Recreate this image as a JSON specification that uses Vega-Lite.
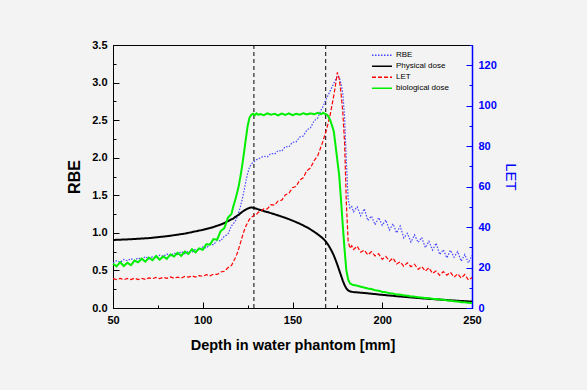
{
 "$schema": "https://vega.github.io/schema/vega-lite/v6.json",
 "width": 359, "height": 263,
 "autosize": {"type": "none"},
 "padding": {"left": 113, "top": 45, "right": 115, "bottom": 82},
 "background": "#f3f3f3",
 "config": {
  "font": "Liberation Sans",
  "view": {"stroke": "#000000", "strokeWidth": 1, "fill": "#f3f3f3"},
  "axis": {"grid": false, "domainColor": "#000000", "domainWidth": 1, "tickColor": "#000000", "tickWidth": 1, "labelColor": "#000000", "labelFont": "Liberation Sans", "labelFontWeight": "bold", "labelFontSize": 11, "titleFont": "Liberation Sans", "titleColor": "#000000", "titleFontWeight": "bold", "titleFontSize": 15, "labelFlush": false, "labelOverlap": false}
 },
 "datasets": {
  "curves": [
   {"d":50,"RBE":0.602,"Physical dose":0.905,"LET":14.48,"biological dose":0.589},
   {"d":52,"RBE":0.63,"Physical dose":0.907,"LET":14.06,"biological dose":0.554},
   {"d":54,"RBE":0.608,"Physical dose":0.909,"LET":14.6,"biological dose":0.609},
   {"d":56,"RBE":0.646,"Physical dose":0.911,"LET":13.98,"biological dose":0.559},
   {"d":58,"RBE":0.628,"Physical dose":0.913,"LET":14.6,"biological dose":0.602},
   {"d":60,"RBE":0.658,"Physical dose":0.915,"LET":14.06,"biological dose":0.57},
   {"d":62,"RBE":0.632,"Physical dose":0.918,"LET":14.76,"biological dose":0.631},
   {"d":64,"RBE":0.668,"Physical dose":0.921,"LET":14.06,"biological dose":0.608},
   {"d":66,"RBE":0.646,"Physical dose":0.924,"LET":14.6,"biological dose":0.657},
   {"d":68,"RBE":0.684,"Physical dose":0.927,"LET":14.14,"biological dose":0.617},
   {"d":70,"RBE":0.652,"Physical dose":0.93,"LET":14.88,"biological dose":0.67},
   {"d":72,"RBE":0.682,"Physical dose":0.935,"LET":14.5,"biological dose":0.636},
   {"d":74,"RBE":0.662,"Physical dose":0.94,"LET":15.08,"biological dose":0.692},
   {"d":76,"RBE":0.702,"Physical dose":0.945,"LET":14.5,"biological dose":0.643},
   {"d":78,"RBE":0.686,"Physical dose":0.95,"LET":15.16,"biological dose":0.686},
   {"d":80,"RBE":0.718,"Physical dose":0.955,"LET":14.66,"biological dose":0.654},
   {"d":82,"RBE":0.694,"Physical dose":0.962,"LET":15.38,"biological dose":0.712},
   {"d":84,"RBE":0.732,"Physical dose":0.969,"LET":14.7,"biological dose":0.686},
   {"d":86,"RBE":0.712,"Physical dose":0.976,"LET":15.26,"biological dose":0.734},
   {"d":88,"RBE":0.752,"Physical dose":0.983,"LET":14.82,"biological dose":0.695},
   {"d":90,"RBE":0.722,"Physical dose":0.99,"LET":15.58,"biological dose":0.75},
   {"d":92,"RBE":0.756,"Physical dose":1.0,"LET":15.24,"biological dose":0.72},
   {"d":94,"RBE":0.74,"Physical dose":1.01,"LET":15.86,"biological dose":0.782},
   {"d":96,"RBE":0.784,"Physical dose":1.02,"LET":15.32,"biological dose":0.741},
   {"d":98,"RBE":0.772,"Physical dose":1.03,"LET":16.02,"biological dose":0.794},
   {"d":100,"RBE":0.813,"Physical dose":1.04,"LET":15.64,"biological dose":0.775},
   {"d":102,"RBE":0.798,"Physical dose":1.052,"LET":16.48,"biological dose":0.849},
   {"d":104,"RBE":0.846,"Physical dose":1.064,"LET":15.94,"biological dose":0.843},
   {"d":106,"RBE":0.843,"Physical dose":1.078,"LET":16.74,"biological dose":0.917},
   {"d":108,"RBE":0.9,"Physical dose":1.094,"LET":16.6,"biological dose":0.909},
   {"d":110,"RBE":0.892,"Physical dose":1.11,"LET":17.78,"biological dose":1.024},
   {"d":112,"RBE":0.956,"Physical dose":1.13,"LET":18.14,"biological dose":1.062},
   {"d":114,"RBE":0.98,"Physical dose":1.155,"LET":19.86,"biological dose":1.2},
   {"d":116,"RBE":1.094,"Physical dose":1.18,"LET":21.02,"biological dose":1.253},
   {"d":117,"RBE":1.12,"Physical dose":1.19,"LET":22.8,"biological dose":1.35},
   {"d":118,"RBE":1.15,"Physical dose":1.21,"LET":24.5,"biological dose":1.43},
   {"d":119,"RBE":1.2,"Physical dose":1.225,"LET":26.6,"biological dose":1.52},
   {"d":120,"RBE":1.27,"Physical dose":1.24,"LET":29.2,"biological dose":1.62},
   {"d":121,"RBE":1.35,"Physical dose":1.26,"LET":32.2,"biological dose":1.75},
   {"d":122,"RBE":1.45,"Physical dose":1.28,"LET":35.2,"biological dose":1.9},
   {"d":123,"RBE":1.56,"Physical dose":1.295,"LET":38.1,"biological dose":2.07},
   {"d":124,"RBE":1.68,"Physical dose":1.31,"LET":40.4,"biological dose":2.25},
   {"d":125,"RBE":1.79,"Physical dose":1.322,"LET":42.3,"biological dose":2.42},
   {"d":126,"RBE":1.87,"Physical dose":1.332,"LET":43.8,"biological dose":2.53},
   {"d":127,"RBE":1.91,"Physical dose":1.338,"LET":44.9,"biological dose":2.57},
   {"d":128,"RBE":1.94,"Physical dose":1.335,"LET":45.4,"biological dose":2.585},
   {"d":129,"RBE":1.955,"Physical dose":1.328,"LET":46.4,"biological dose":2.565},
   {"d":130,"RBE":1.975,"Physical dose":1.32,"LET":46.3,"biological dose":2.59},
   {"d":131,"RBE":1.98,"Physical dose":1.312,"LET":47.4,"biological dose":2.57},
   {"d":132,"RBE":2.0,"Physical dose":1.305,"LET":47.5,"biological dose":2.582},
   {"d":134,"RBE":2.02,"Physical dose":1.29,"LET":49.06,"biological dose":2.565},
   {"d":136,"RBE":2.012,"Physical dose":1.277,"LET":48.98,"biological dose":2.59},
   {"d":138,"RBE":2.058,"Physical dose":1.262,"LET":51.1,"biological dose":2.572},
   {"d":140,"RBE":2.048,"Physical dose":1.247,"LET":50.87,"biological dose":2.585},
   {"d":142,"RBE":2.095,"Physical dose":1.232,"LET":52.91,"biological dose":2.563},
   {"d":144,"RBE":2.088,"Physical dose":1.216,"LET":53.3,"biological dose":2.588},
   {"d":146,"RBE":2.148,"Physical dose":1.2,"LET":55.89,"biological dose":2.57},
   {"d":148,"RBE":2.145,"Physical dose":1.182,"LET":56.72,"biological dose":2.59},
   {"d":150,"RBE":2.205,"Physical dose":1.163,"LET":59.43,"biological dose":2.566},
   {"d":152,"RBE":2.21,"Physical dose":1.143,"LET":60.11,"biological dose":2.584},
   {"d":154,"RBE":2.275,"Physical dose":1.122,"LET":63.16,"biological dose":2.572},
   {"d":156,"RBE":2.288,"Physical dose":1.099,"LET":64.38,"biological dose":2.592},
   {"d":158,"RBE":2.368,"Physical dose":1.074,"LET":67.9,"biological dose":2.575},
   {"d":160,"RBE":2.398,"Physical dose":1.046,"LET":69.17,"biological dose":2.59},
   {"d":162,"RBE":2.488,"Physical dose":1.016,"LET":72.81,"biological dose":2.578},
   {"d":164,"RBE":2.528,"Physical dose":0.982,"LET":75.1,"biological dose":2.596},
   {"d":166,"RBE":2.638,"Physical dose":0.945,"LET":79.99,"biological dose":2.58},
   {"d":167,"RBE":2.68,"Physical dose":0.925,"LET":82.5,"biological dose":2.598},
   {"d":168,"RBE":2.74,"Physical dose":0.9,"LET":85.5,"biological dose":2.585},
   {"d":169,"RBE":2.79,"Physical dose":0.87,"LET":88.4,"biological dose":2.575},
   {"d":170,"RBE":2.84,"Physical dose":0.835,"LET":91.8,"biological dose":2.55},
   {"d":171,"RBE":2.89,"Physical dose":0.795,"LET":95.6,"biological dose":2.5},
   {"d":172,"RBE":2.94,"Physical dose":0.75,"LET":100.2,"biological dose":2.43},
   {"d":173,"RBE":2.99,"Physical dose":0.7,"LET":105.0,"biological dose":2.35},
   {"d":174,"RBE":3.04,"Physical dose":0.64,"LET":110.5,"biological dose":2.16},
   {"d":175,"RBE":3.09,"Physical dose":0.575,"LET":116.5,"biological dose":1.96},
   {"d":176,"RBE":3.07,"Physical dose":0.505,"LET":113.5,"biological dose":1.77},
   {"d":177,"RBE":2.99,"Physical dose":0.435,"LET":106.5,"biological dose":1.45},
   {"d":178,"RBE":2.86,"Physical dose":0.365,"LET":97,"biological dose":1.1},
   {"d":179,"RBE":2.55,"Physical dose":0.305,"LET":82,"biological dose":0.78},
   {"d":180,"RBE":1.95,"Physical dose":0.26,"LET":52,"biological dose":0.5},
   {"d":181,"RBE":1.45,"Physical dose":0.235,"LET":33,"biological dose":0.38},
   {"d":182,"RBE":1.33,"Physical dose":0.222,"LET":29.5,"biological dose":0.33},
   {"d":183,"RBE":1.35,"Physical dose":0.216,"LET":30.8,"biological dose":0.315},
   {"d":184,"RBE":1.28,"Physical dose":0.212,"LET":28.9,"biological dose":0.305},
   {"d":186,"RBE":1.346,"Physical dose":0.208,"LET":30.6,"biological dose":0.298},
   {"d":188,"RBE":1.228,"Physical dose":0.204,"LET":27.58,"biological dose":0.283},
   {"d":190,"RBE":1.32,"Physical dose":0.2,"LET":28.59,"biological dose":0.272},
   {"d":192,"RBE":1.163,"Physical dose":0.195,"LET":26.26,"biological dose":0.258},
   {"d":194,"RBE":1.223,"Physical dose":0.19,"LET":27.83,"biological dose":0.252},
   {"d":196,"RBE":1.108,"Physical dose":0.185,"LET":25.76,"biological dose":0.236},
   {"d":198,"RBE":1.203,"Physical dose":0.18,"LET":26.81,"biological dose":0.23},
   {"d":200,"RBE":1.102,"Physical dose":0.175,"LET":24.09,"biological dose":0.214},
   {"d":202,"RBE":1.171,"Physical dose":0.171,"LET":25.52,"biological dose":0.21},
   {"d":204,"RBE":1.037,"Physical dose":0.166,"LET":23.18,"biological dose":0.197},
   {"d":206,"RBE":1.12,"Physical dose":0.162,"LET":24.74,"biological dose":0.192},
   {"d":208,"RBE":1.0,"Physical dose":0.157,"LET":21.75,"biological dose":0.179},
   {"d":210,"RBE":1.09,"Physical dose":0.153,"LET":22.79,"biological dose":0.178},
   {"d":212,"RBE":0.933,"Physical dose":0.149,"LET":20.61,"biological dose":0.166},
   {"d":214,"RBE":0.993,"Physical dose":0.145,"LET":22.34,"biological dose":0.164},
   {"d":216,"RBE":0.878,"Physical dose":0.141,"LET":20.42,"biological dose":0.153},
   {"d":218,"RBE":0.973,"Physical dose":0.137,"LET":21.63,"biological dose":0.151},
   {"d":220,"RBE":0.872,"Physical dose":0.133,"LET":19.06,"biological dose":0.142},
   {"d":222,"RBE":0.939,"Physical dose":0.129,"LET":20.53,"biological dose":0.14},
   {"d":224,"RBE":0.803,"Physical dose":0.126,"LET":18.22,"biological dose":0.132},
   {"d":226,"RBE":0.888,"Physical dose":0.122,"LET":19.92,"biological dose":0.13},
   {"d":228,"RBE":0.77,"Physical dose":0.119,"LET":17.07,"biological dose":0.122},
   {"d":230,"RBE":0.863,"Physical dose":0.115,"LET":18.25,"biological dose":0.12},
   {"d":232,"RBE":0.711,"Physical dose":0.112,"LET":16.17,"biological dose":0.112},
   {"d":234,"RBE":0.776,"Physical dose":0.109,"LET":18.0,"biological dose":0.11},
   {"d":236,"RBE":0.667,"Physical dose":0.105,"LET":16.23,"biological dose":0.102},
   {"d":238,"RBE":0.769,"Physical dose":0.102,"LET":17.62,"biological dose":0.098},
   {"d":240,"RBE":0.676,"Physical dose":0.099,"LET":15.25,"biological dose":0.089},
   {"d":242,"RBE":0.751,"Physical dose":0.096,"LET":16.9,"biological dose":0.086},
   {"d":244,"RBE":0.623,"Physical dose":0.094,"LET":14.79,"biological dose":0.078},
   {"d":246,"RBE":0.713,"Physical dose":0.091,"LET":16.57,"biological dose":0.076},
   {"d":248,"RBE":0.601,"Physical dose":0.088,"LET":13.81,"biological dose":0.069},
   {"d":250,"RBE":0.7,"Physical dose":0.086,"LET":15.09,"biological dose":0.067}
  ],
  "markers": [{"d": 128.5}, {"d": 168.5}]
 },
 "layer": [
  {
   "data": {"name": "markers"},
   "mark": {"type": "rule", "color": "#000000", "strokeWidth": 1, "strokeDash": [4, 3]},
   "encoding": {
    "x": {"field": "d", "type": "quantitative", "scale": {"domain": [50, 250], "nice": false, "zero": false},
     "axis": {"title": "Depth in water phantom [mm]", "titleFontSize": 14.5, "values": [50, 75, 100, 125, 150, 175, 200, 225, 250],
      "labelExpr": "datum.value % 50 === 0 ? datum.label : ''",
      "tickSize": {"condition": {"test": "datum.value % 50 === 0", "value": -6}, "value": -3},
      "labelPadding": 12, "titlePadding": 10}}
   }
  },
  {
   "data": {"name": "curves"},
   "transform": [{"fold": ["RBE", "Physical dose", "LET", "biological dose"], "as": ["s", "v"]}, {"filter": "datum.s === 'RBE'"}],
   "mark": {"type": "line", "strokeWidth": 1.2},
   "encoding": {
    "x": {"field": "d", "type": "quantitative"},
    "y": {"field": "v", "type": "quantitative", "scale": {"domain": [0, 3.5], "nice": false},
     "axis": {"title": "RBE", "titleFontSize": 16, "values": [0, 0.25, 0.5, 0.75, 1, 1.25, 1.5, 1.75, 2, 2.25, 2.5, 2.75, 3, 3.25, 3.5],
      "labelExpr": "datum.value % 0.5 === 0 ? format(datum.value, '.1f') : ''",
      "tickSize": {"condition": {"test": "datum.value % 0.5 === 0", "value": -6}, "value": -3},
      "labelPadding": 12, "titlePadding": 9}},
    "color": {"field": "s", "type": "nominal", "scale": {"domain": ["RBE", "Physical dose", "LET", "biological dose"], "range": ["#4646ff", "#000000", "#ff0000", "#00ee00"]},
     "legend": {"title": null, "orient": "none", "legendX": 258, "legendY": 5, "symbolType": "stroke", "symbolSize": 400, "symbolStrokeWidth": 1.5, "labelFontSize": 8, "labelFont": "Liberation Sans", "labelColor": "#000000", "clipHeight": 10.5, "rowPadding": 0, "padding": 0, "labelOffset": 3}},
    "strokeDash": {"field": "s", "type": "nominal", "scale": {"domain": ["RBE", "Physical dose", "LET", "biological dose"], "range": [[1.5, 1.5], [1, 0], [4, 2], [1, 0]]},
     "legend": {"title": null, "orient": "none", "legendX": 258, "legendY": 5, "symbolType": "stroke", "symbolSize": 400, "symbolStrokeWidth": 1.5, "labelFontSize": 8, "labelFont": "Liberation Sans", "labelColor": "#000000", "clipHeight": 10.5, "rowPadding": 0, "padding": 0, "labelOffset": 3}}
   }
  },
  {
   "data": {"name": "curves"},
   "transform": [{"fold": ["RBE", "Physical dose", "LET", "biological dose"], "as": ["s", "v"]}, {"filter": "datum.s === 'Physical dose'"}],
   "mark": {"type": "line", "strokeWidth": 2},
   "encoding": {
    "x": {"field": "d", "type": "quantitative"},
    "y": {"field": "v", "type": "quantitative", "scale": {"domain": [0, 3.5], "nice": false}, "axis": null},
    "color": {"field": "s", "type": "nominal"},
    "strokeDash": {"field": "s", "type": "nominal"}
   }
  },
  {
   "data": {"name": "curves"},
   "transform": [{"fold": ["RBE", "Physical dose", "LET", "biological dose"], "as": ["s", "v"]}, {"filter": "datum.s === 'LET'"}],
   "mark": {"type": "line", "strokeWidth": 1.2},
   "encoding": {
    "x": {"field": "d", "type": "quantitative"},
    "y": {"field": "v", "type": "quantitative", "scale": {"domain": [0, 130], "nice": false},
     "axis": {"orient": "right", "title": "LET", "titleAngle": 90, "titleFontWeight": "normal", "titleFontSize": 15, "titleColor": "#0000ff",
      "values": [0, 10, 20, 30, 40, 50, 60, 70, 80, 90, 100, 110, 120, 130],
      "labelExpr": "datum.value % 20 === 0 ? datum.label : ''",
      "tickSize": {"condition": {"test": "datum.value % 20 === 0", "value": -6}, "value": -3},
      "domainColor": "#0000ff", "tickColor": "#0000ff", "labelColor": "#0000ff", "domainWidth": 1.5,
      "labelPadding": 12, "titlePadding": 6}},
    "color": {"field": "s", "type": "nominal"},
    "strokeDash": {"field": "s", "type": "nominal"}
   }
  },
  {
   "data": {"name": "curves"},
   "transform": [{"fold": ["RBE", "Physical dose", "LET", "biological dose"], "as": ["s", "v"]}, {"filter": "datum.s === 'biological dose'"}],
   "mark": {"type": "line", "strokeWidth": 2},
   "encoding": {
    "x": {"field": "d", "type": "quantitative"},
    "y": {"field": "v", "type": "quantitative", "scale": {"domain": [0, 3.5], "nice": false}, "axis": null},
    "color": {"field": "s", "type": "nominal"},
    "strokeDash": {"field": "s", "type": "nominal"}
   }
  }
 ],
 "resolve": {"scale": {"y": "independent"}}
}
